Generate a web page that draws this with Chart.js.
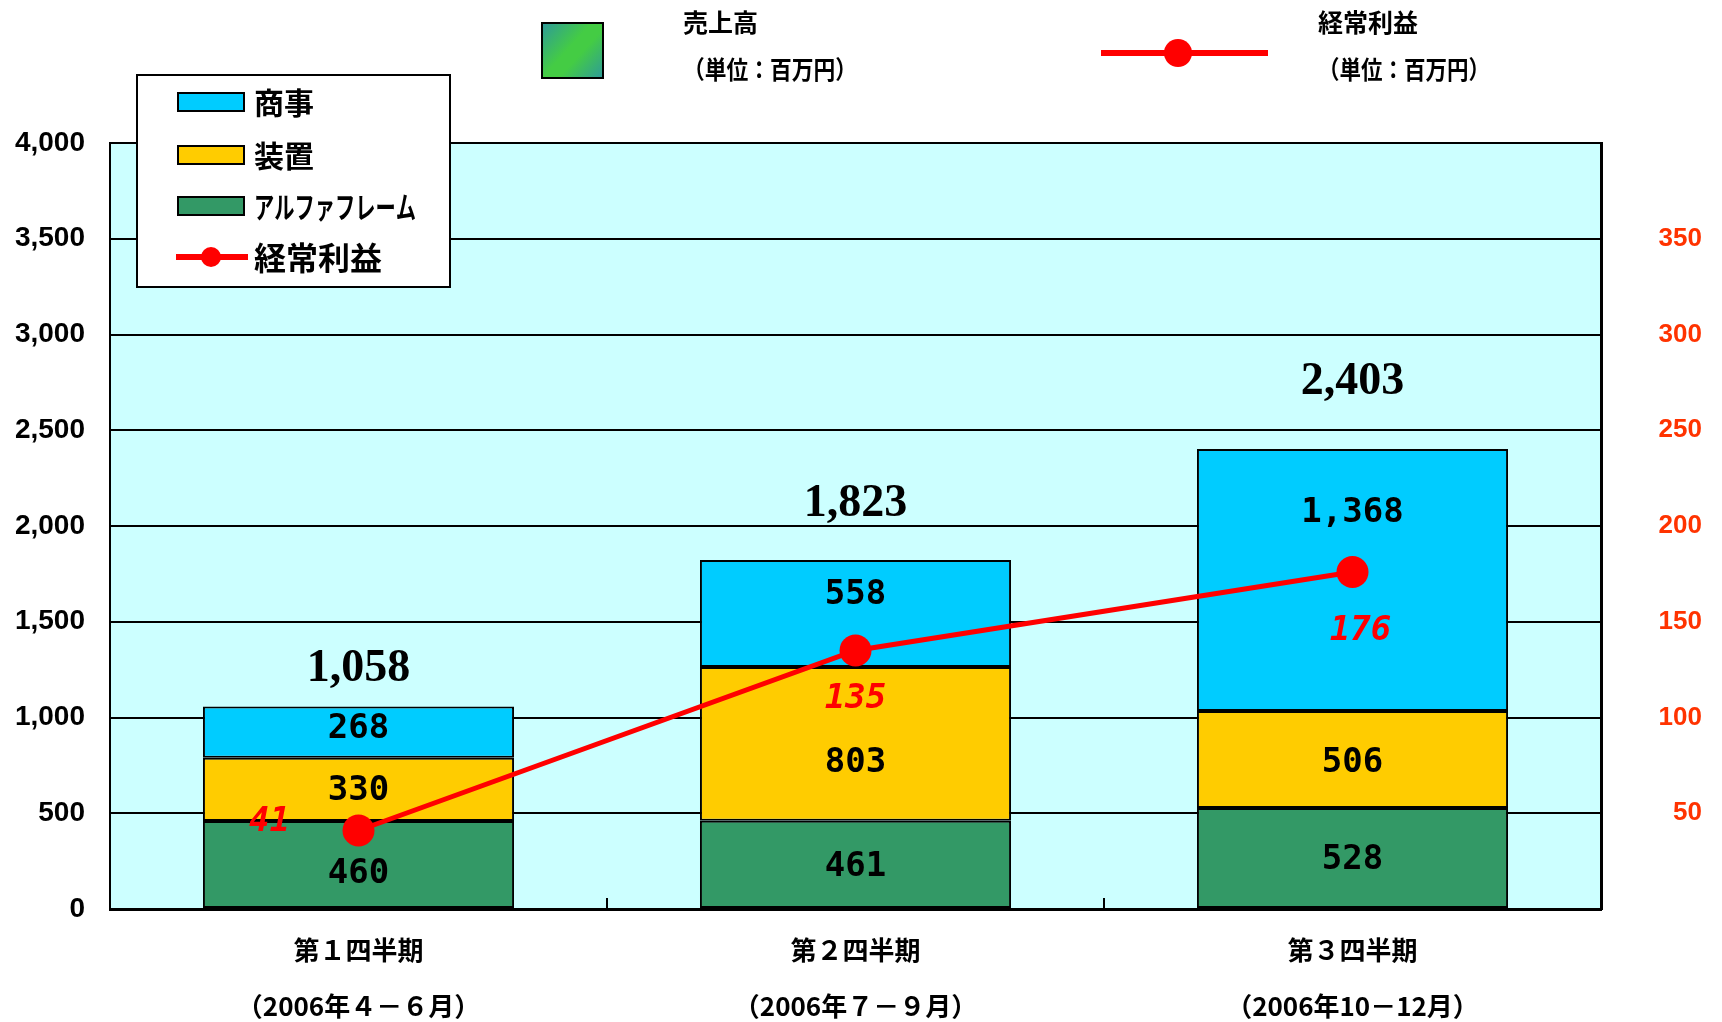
<!DOCTYPE html>
<html>
<head>
<meta charset="utf-8">
<script src="https://cdn.jsdelivr.net/npm/chart.js@4.4.1/dist/chart.umd.min.js"></script>
<style>
    html, body { margin: 0; padding: 0; background: #fff; }
    #wrap { width: 1722px; height: 1022px; position: relative; }
</style>
</head>
<body>
<div id="wrap"><canvas id="salesChart"></canvas></div>
<script>
// data
const quarterLabels = [
    ["第１四半期", "（2006年４－６月）"],
    ["第２四半期", "（2006年７－９月）"],
    ["第３四半期", "（2006年10－12月）"],
];
const alphaFrame = [460, 461, 528];   // アルファフレーム
const souchi = [330, 803, 506];       // 装置
const shouji = [268, 558, 1368];      // 商事
const salesTotal = [1058, 1823, 2403];
const keijoRieki = [41, 135, 176];    // 経常利益

const jp = '"Noto Sans CJK JP", sans-serif';

// label nudges (px) so the numbers sit where the original put them
const segmentShift = [[10, 3, 2], [2, 19, 4], [-3, -18, -67]];
const totalShift = [-37, -56, -67];
const profileShift = [[-89, -8], [0, 49], [8, 59]];

const decorPlugin = {
    id: "decor",
    beforeDraw: (chart) => {
        const { ctx, chartArea: a } = chart;
        ctx.save();
        ctx.fillStyle = "#CCFFFF";
        ctx.fillRect(a.left, a.top, a.right - a.left, a.bottom - a.top);
        ctx.restore();
    },
    beforeDatasetsDraw: (chart) => {
        // short tick marks between quarters
        const { ctx, chartArea: a, scales } = chart;
        const x = scales.x;
        ctx.save();
        ctx.strokeStyle = "#000";
        ctx.lineWidth = 2;
        for (let i = 0; i < quarterLabels.length - 1; i++) {
            const px = (x.getPixelForValue(i) + x.getPixelForValue(i + 1)) / 2;
            ctx.beginPath();
            ctx.moveTo(px, a.bottom);
            ctx.lineTo(px, a.bottom - 11);
            ctx.stroke();
        }
        ctx.restore();
    },
    afterDatasetsDraw: (chart) => {
        const { ctx } = chart;
        ctx.save();
        ctx.textAlign = "center";
        ctx.textBaseline = "middle";

        // values inside the bar segments
        ctx.font = 'bold 34px "DejaVu Sans Mono", monospace';
        ctx.fillStyle = "#000";
        [0, 1, 2].forEach((di) => {
            const ds = chart.data.datasets[di];
            chart.getDatasetMeta(di).data.forEach((bar, j) => {
                const cy = (bar.y + bar.base) / 2 + segmentShift[di][j];
                ctx.fillText(ds.data[j].toLocaleString("en-US"), bar.x, cy);
            });
        });

        // totals above the bars
        ctx.font = 'bold 46px "Liberation Serif", "Times New Roman", serif';
        chart.getDatasetMeta(2).data.forEach((bar, j) => {
            ctx.fillText(salesTotal[j].toLocaleString("en-US"), bar.x, bar.y + totalShift[j]);
        });

        // profit values next to the points
        ctx.font = 'italic bold 34px "DejaVu Sans Mono", monospace';
        ctx.fillStyle = "#FF0000";
        chart.getDatasetMeta(3).data.forEach((pt, j) => {
            ctx.fillText(String(keijoRieki[j]), pt.x + profileShift[j][0], pt.y + profileShift[j][1]);
        });
        ctx.restore();
    },
    afterDraw: (chart) => {
        const { ctx } = chart;
        ctx.save();
        ctx.textBaseline = "middle";
        ctx.textAlign = "left";

        // legend box, upper left
        ctx.fillStyle = "#fff";
        ctx.fillRect(137, 75, 313, 212);
        ctx.strokeStyle = "#000";
        ctx.lineWidth = 2;
        ctx.strokeRect(137, 75, 313, 212);

        const swatches = [
            ["商事", "#00CCFF", 102],
            ["装置", "#FFCC00", 155],
            ["アルファフレーム", "#339966", 206],
        ];
        ctx.font = "bold 30px " + jp;
        swatches.forEach(([txt, col, y]) => {
            ctx.fillStyle = col;
            ctx.fillRect(178, y - 9, 66, 18);
            ctx.strokeStyle = "#000";
            ctx.lineWidth = 2;
            ctx.strokeRect(178, y - 9, 66, 18);
            ctx.fillStyle = "#000";
            ctx.fillText(txt, 254, y + 1, 162);
        });
        ctx.strokeStyle = "#FF0000";
        ctx.lineWidth = 6;
        ctx.beginPath();
        ctx.moveTo(176, 257);
        ctx.lineTo(248, 257);
        ctx.stroke();
        ctx.fillStyle = "#FF0000";
        ctx.beginPath();
        ctx.arc(211, 257, 10, 0, Math.PI * 2);
        ctx.fill();
        ctx.fillStyle = "#000";
        ctx.font = "bold 32px " + jp;
        ctx.fillText("経常利益", 254, 258);

        // top legend: sales swatch
        const g = ctx.createLinearGradient(542, 23, 603, 78);
        g.addColorStop(0, "#2E9A9A");
        g.addColorStop(0.45, "#44CC44");
        g.addColorStop(0.6, "#44CC44");
        g.addColorStop(1, "#2E9A9A");
        ctx.fillStyle = g;
        ctx.fillRect(542, 23, 61, 55);
        ctx.strokeStyle = "#000";
        ctx.lineWidth = 2;
        ctx.strokeRect(542, 23, 61, 55);

        ctx.fillStyle = "#000";
        ctx.font = "bold 25px " + jp;
        ctx.fillText("売上高", 683, 22);
        ctx.fillText("（単位：百万円）", 683, 69, 174);

        // top legend: profit line
        ctx.strokeStyle = "#FF0000";
        ctx.lineWidth = 6;
        ctx.beginPath();
        ctx.moveTo(1101, 53);
        ctx.lineTo(1268, 53);
        ctx.stroke();
        ctx.fillStyle = "#FF0000";
        ctx.beginPath();
        ctx.arc(1178, 53, 14, 0, Math.PI * 2);
        ctx.fill();

        ctx.fillStyle = "#000";
        ctx.fillText("経常利益", 1318, 22);
        ctx.fillText("（単位：百万円）", 1318, 69, 172);
        ctx.restore();
    },
};

const ctx = document.getElementById("salesChart").getContext("2d");

const chart = new Chart(ctx, {
    data: {
        labels: quarterLabels,
        datasets: [
            {
                type: "bar",
                label: "アルファフレーム",
                data: alphaFrame,
                backgroundColor: "#339966",
                borderColor: "#000",
                borderWidth: 2,
                borderSkipped: false,
                order: 1,
            },
            {
                type: "bar",
                label: "装置",
                data: souchi,
                backgroundColor: "#FFCC00",
                borderColor: "#000",
                borderWidth: 2,
                borderSkipped: false,
                order: 1,
            },
            {
                type: "bar",
                label: "商事",
                data: shouji,
                backgroundColor: "#00CCFF",
                borderColor: "#000",
                borderWidth: 2,
                borderSkipped: false,
                order: 1,
            },
            {
                type: "line",
                label: "経常利益",
                data: keijoRieki,
                yAxisID: "y1",
                borderColor: "#FF0000",
                borderWidth: 5,
                pointRadius: 16,
                pointBackgroundColor: "#FF0000",
                pointBorderWidth: 0,
                order: 0,
            },
        ],
    },
    options: {
        responsive: true,
        maintainAspectRatio: false,
        animation: false,
        datasets: {
            bar: { barPercentage: 0.626, categoryPercentage: 1 },
        },
        layout: {
            padding: { top: 143, right: 20, bottom: 0, left: 0 },
        },
        scales: {
            x: {
                stacked: true,
                grid: { display: false },
                border: { color: "#000", width: 3 },
                ticks: {
                    color: "#000",
                    padding: 5,
                    maxRotation: 0,
                    font: { family: jp, size: 26, weight: "bold", lineHeight: 2.15 },
                },
                afterFit: (scale) => { scale.height = 113; },
            },
            y: {
                stacked: true,
                min: 0,
                max: 4000,
                ticks: {
                    stepSize: 500,
                    color: "#000",
                    padding: 25,
                    font: { family: '"Liberation Sans", Arial, sans-serif', size: 28, weight: "bold" },
                    callback: (v) => v.toLocaleString("en-US"),
                },
                grid: { color: "#000", lineWidth: 2, drawTicks: false },
                border: { color: "#000", width: 2 },
                afterFit: (scale) => { scale.width = 110; },
            },
            y1: {
                position: "right",
                min: 0,
                max: 400,
                grid: { display: false, drawTicks: false },
                border: { color: "#000", width: 3 },
                ticks: {
                    stepSize: 50,
                    color: "#FF3300",
                    crossAlign: "far",
                    font: { family: '"Liberation Sans", Arial, sans-serif', size: 26, weight: "bold" },
                    callback: (v) => (v === 0 || v === 400 ? "" : v),
                },
                afterFit: (scale) => { scale.width = 101; },
            },
        },
        plugins: {
            legend: { display: false },
            tooltip: { enabled: false },
        },
    },
    plugins: [decorPlugin],
});
</script>
</body>
</html>
